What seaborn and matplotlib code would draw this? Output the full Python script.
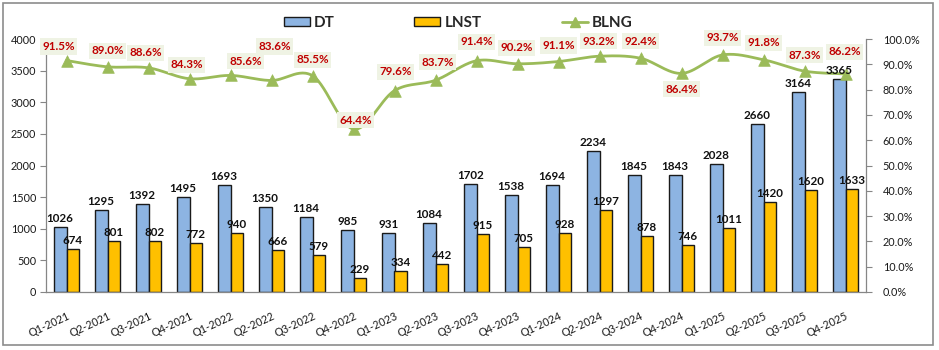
import numpy as np
import pandas as pd
import matplotlib
matplotlib.use("Agg")
import matplotlib.pyplot as plt
import matplotlib.patches as mpatches
from matplotlib.lines import Line2D
import seaborn as sns

quarters = ["Q1-2021", "Q2-2021", "Q3-2021", "Q4-2021", "Q1-2022", "Q2-2022", "Q3-2022",
            "Q4-2022", "Q1-2023", "Q2-2023", "Q3-2023", "Q4-2023", "Q1-2024", "Q2-2024",
            "Q3-2024", "Q4-2024", "Q1-2025", "Q2-2025", "Q3-2025", "Q4-2025"]
dt = [1026, 1295, 1392, 1495, 1693, 1350, 1184, 985, 931, 1084, 1702, 1538, 1694, 2234,
      1845, 1843, 2028, 2660, 3164, 3365]
lnst = [674, 801, 802, 772, 940, 666, 579, 229, 334, 442, 915, 705, 928, 1297, 878, 746,
        1011, 1420, 1620, 1633]
blng = [91.5, 89.0, 88.6, 84.3, 85.6, 83.6, 85.5, 64.4, 79.6, 83.7, 91.4, 90.2, 91.1, 93.2,
        92.4, 86.4, 93.7, 91.8, 87.3, 86.2]
left_ticks = [0, 500, 1000, 1500, 2000, 2500, 3000, 3500, 4000]
right_ticks = [0, 10, 20, 30, 40, 50, 60, 70, 80, 90, 100]

# label offsets for BLNG (pixels, style only)
blng_off = [(-8, 14), (0, 16), (-3, 15), (-3, 14), (15, 14), (3, 34), (0, 16), (2, 9),
            (1, 19), (2, 18), (0, 19), (-1, 16), (0, 16), (-1, 15), (0, 17), (0, -16),
            (0, 17), (0, 17), (0, 16), (-1, 22)]

sns.set_theme(style="white")
plt.rcParams["font.family"] = ["Lato", "DejaVu Sans"]

BLUE = "#8DB4E2"
GOLD = "#FFC000"
GREEN = "#9BBB59"
RED = "#C00000"
EDGE = "#1a1a1a"
AXC = "#868686"

df = pd.DataFrame({
    "Quarter": quarters * 2,
    "Value": dt + lnst,
    "Series": ["DT"] * len(dt) + ["LNST"] * len(lnst),
})

fig = plt.figure(figsize=(9.39, 3.5), dpi=100)
ax = fig.add_axes([46 / 939, 1 - 292 / 350, (866 - 46) / 939, (292 - 39) / 350])

sns.barplot(data=df, x="Quarter", y="Value", hue="Series", order=quarters,
            hue_order=["DT", "LNST"], palette=[BLUE, GOLD], width=0.62, gap=0,
            saturation=1, edgecolor=EDGE, linewidth=1.0, legend=False, ax=ax, zorder=2)

ax.set_xlim(-0.5, len(quarters) - 0.5)
ax.set_ylim(0, 4000)
ax.set_yticks(left_ticks)
ax.set_yticklabels([str(v) for v in left_ticks], fontsize=7.8, color="#1a1a1a")
ax.set_xlabel("")
ax.set_ylabel("")
ax.set_xticks(range(len(quarters)))
ax.set_xticklabels(quarters, fontsize=7.8, color="#1a1a1a", rotation=25,
                   ha="right", va="top", rotation_mode="anchor")
ax.set_xticks(np.arange(-0.5, len(quarters), 1), minor=True)
ax.tick_params(axis="x", which="major", length=0, pad=13)
ax.tick_params(axis="x", which="minor", length=4, color=AXC, width=0.8, direction="out")
ax.tick_params(axis="y", length=4, color=AXC, width=0.8, direction="out", pad=3, left=True)
for s in ["top", "right"]:
    ax.spines[s].set_visible(False)
for s in ["left", "bottom"]:
    ax.spines[s].set_color(AXC)
    ax.spines[s].set_linewidth(0.9)

# secondary axis
ax2 = ax.twinx()
ax2.set_ylim(0, 100)
ax2.set_yticks(right_ticks)
ax2.set_yticklabels([f"{v:.1f}%" for v in right_ticks], fontsize=7.8, color="#1a1a1a")
ax2.tick_params(axis="y", length=4, color=AXC, width=0.8, direction="out", pad=8, right=True)
for s in ["top", "left", "bottom"]:
    ax2.spines[s].set_visible(False)
ax2.spines["right"].set_color(AXC)
ax2.spines["right"].set_linewidth(0.9)

# smooth line (Catmull-Rom through the data points)
xs = np.arange(len(blng), dtype=float)
ys = np.array(blng, dtype=float)
px = np.concatenate([[xs[0]], xs, [xs[-1]]])
py = np.concatenate([[ys[0]], ys, [ys[-1]]])
cx_all, cy_all = [], []
t = np.linspace(0, 1, 30)
for i in range(1, len(px) - 2):
    p0, p1, p2, p3 = (px[i - 1], py[i - 1]), (px[i], py[i]), (px[i + 1], py[i + 1]), (px[i + 2], py[i + 2])
    for k in range(2):
        a = [p0[k], p1[k], p2[k], p3[k]]
        c = 0.5 * ((2 * a[1]) + (-a[0] + a[2]) * t + (2 * a[0] - 5 * a[1] + 4 * a[2] - a[3]) * t ** 2
                   + (-a[0] + 3 * a[1] - 3 * a[2] + a[3]) * t ** 3)
        (cx_all if k == 0 else cy_all).append(c)
ax2.plot(np.concatenate(cx_all), np.concatenate(cy_all), color=GREEN, lw=2.0, zorder=3)
sns.scatterplot(x=xs, y=ys, marker="^", s=70, color=GREEN, edgecolor=GREEN,
                linewidth=0.5, ax=ax2, zorder=4, legend=False)

# bar labels (drawn on top layer, positioned in bar-axis data coords)
for cont, vals in zip(ax.containers, [dt, lnst]):
    for rect, v in zip(cont, vals):
        cx = rect.get_x() + rect.get_width() / 2
        ax2.annotate(str(v), (cx, rect.get_height()), xycoords=ax.transData, xytext=(0, 3),
                     textcoords="offset pixels", ha="center", va="bottom",
                     fontsize=8.4, fontweight="bold", color="#111111", zorder=5)

for i, v in enumerate(blng):
    dx, dy = blng_off[i]
    ax2.annotate(f"{v:.1f}%", (i, v), xytext=(dx, dy), textcoords="offset pixels",
                 ha="center", va="center", fontsize=8.4, fontweight="bold", color=RED,
                 bbox=dict(boxstyle="square,pad=0.22", fc="#EFF3E4", ec="none"), zorder=6)

# legend
handles = [mpatches.Patch(facecolor=BLUE, edgecolor=EDGE, linewidth=1.0),
           mpatches.Patch(facecolor=GOLD, edgecolor=EDGE, linewidth=1.0),
           Line2D([0], [0], color=GREEN, lw=2.0, marker="^", markersize=7)]
fig.legend(handles, ["DT", "LNST", "BLNG"], loc="center", bbox_to_anchor=(0.488, 1 - 23 / 350),
           ncol=3, frameon=False, prop={"weight": "bold", "size": 11},
           handlelength=1.7, handleheight=0.6, handletextpad=0.3, columnspacing=5.2)

# outer border
fig.add_artist(mpatches.Rectangle((3 / 939, 5 / 350), 930 / 939, 342 / 350, transform=fig.transFigure,
                                  fill=False, edgecolor="#8c8c8c", linewidth=1.2))

fig.savefig("out.png", dpi=100)
